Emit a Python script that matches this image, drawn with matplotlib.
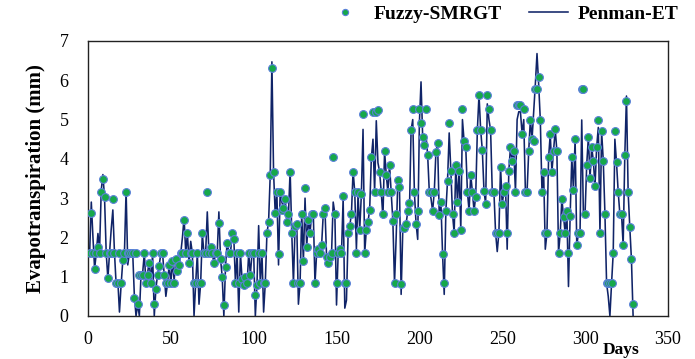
import numpy as np
import matplotlib
matplotlib.use("Agg")
import matplotlib.pyplot as plt

# daily values (days 1..329)
penman = [
    1.6, 2.9, 2.0, 1.2, 1.6, 2.1, 1.7, 3.2, 3.6, 3.0,
    1.6, 0.95, 1.6, 2.2, 2.7, 1.6, 0.8, 0.9, 0.1, 0.8,
    1.4, 1.6, 3.2, 1.3, 1.6, 1.5, 1.6, 0.5, 0.0, 0.3,
    0.0, 1.05, 1.1, 1.6, 0.8, 1.1, 1.4, 0.8, 1.6, 0.0,
    0.7, 1.05, 1.3, 1.6, 1.6, 1.05, 0.5, 0.83, 1.3, 0.83,
    1.4, 0.9, 1.45, 1.15, 1.3, 1.6, 2.0, 2.5, 1.6, 2.1,
    1.35, 1.9, 1.6, 0.0, 0.83, 1.6, 0.3, 0.83, 2.1, 1.6,
    1.6, 2.65, 1.6, 1.8, 1.6, 1.35, 1.6, 1.6, 2.65, 1.45,
    1.0, 0.0, 1.25, 1.9, 1.6, 1.6, 2.1, 2.0, 0.83, 1.6,
    0.1, 1.6, 0.93, 0.8, 1.0, 0.8, 1.6, 1.05, 1.6, 1.6,
    0.0, 0.8, 2.3, 0.83, 1.6, 0.1, 0.83, 2.1, 2.4, 3.6,
    6.47, 3.67, 2.6, 3.16, 1.3, 3.16, 2.9, 2.76, 3.0, 2.4,
    2.6, 3.7, 2.1, 0.83, 2.3, 2.35, 0.3, 0.83, 2.6, 1.4,
    3.0, 1.75, 2.5, 2.1, 2.6, 2.6, 0.83, 1.6, 1.7, 1.6,
    1.8, 2.6, 2.75, 1.5, 1.3, 1.5, 1.6, 2.9, 2.6, 0.28,
    1.6, 1.7, 1.6, 3.0, 0.2, 0.4, 2.1, 2.3, 2.6, 3.7,
    3.16, 1.7, 3.1, 2.2, 3.1, 4.75, 1.6, 2.2, 2.4, 2.7,
    4.0, 4.5, 3.16, 4.97, 3.9, 3.67, 3.16, 2.5, 4.2, 3.6,
    3.16, 3.85, 3.16, 2.43, 0.83, 2.0, 3.45, 3.29, 0.55, 2.2,
    2.3, 2.35, 2.66, 2.64, 4.73, 5.0, 3.16, 2.35, 1.95, 4.9,
    5.96, 4.55, 4.35, 4.6, 4.1, 3.16, 3.0, 2.67, 3.16, 4.18,
    4.4, 2.57, 2.9, 1.58, 0.55, 2.68, 3.44, 4.66, 3.7, 2.6,
    2.12, 3.85, 2.9, 3.7, 2.2, 5.0, 4.45, 4.3, 3.16, 2.68,
    3.6, 3.16, 2.68, 3.04, 4.73, 5.63, 4.73, 4.22, 3.19, 2.85,
    5.4, 5.0, 4.73, 3.16, 3.16, 2.12, 1.64, 2.12, 3.8, 2.85,
    3.16, 3.3, 1.7, 3.7, 4.3, 3.95, 4.2, 3.16, 5.0, 5.2,
    5.2, 4.64, 5.0, 3.16, 3.16, 4.2, 5.0, 4.5, 5.2, 5.9,
    6.68, 5.9, 4.99, 3.16, 3.67, 1.7, 2.1, 4.04, 4.63, 3.67,
    4.2, 4.75, 4.2, 1.6, 2.1, 2.98, 2.53, 2.1, 2.68, 0.75,
    2.55, 4.04, 3.2, 4.5, 1.8, 2.1, 2.2, 4.99, 2.6, 2.6,
    3.85, 4.55, 3.5, 4.3, 3.95, 3.3, 4.3, 4.8, 2.12, 4.7,
    3.95, 2.6, 0.83, 0.5, 0.0, 0.83, 1.6, 4.5, 3.9, 3.16,
    2.6, 2.6, 1.8, 4.1, 5.6, 3.16, 2.26, 1.44, 0.0,
]

fuzzy = [
    1.6, 2.63, 1.6, 1.2, 1.6, 1.76, 1.6, 3.16, 3.49, 3.03,
    1.6, 0.97, 1.6, 1.6, 2.98, 1.6, 0.83, 0.83, 1.6, 0.83,
    1.42, 1.6, 3.16, 1.6, 1.6, 1.6, 1.6, 0.46, 1.6, 0.31,
    1.05, 1.05, 1.05, 1.6, 0.83, 1.05, 1.36, 0.83, 1.6, 0.31,
    0.69, 1.05, 1.28, 1.6, 1.6, 1.05, 0.83, 0.83, 1.3, 0.83,
    1.4, 0.83, 1.45, 1.15, 1.3, 1.6, 1.6, 2.44, 1.6, 2.1,
    1.35, 1.6, 1.6, 0.83, 0.83, 1.6, 0.83, 0.83, 2.1, 1.6,
    1.6, 3.16, 1.6, 1.76, 1.6, 1.35, 1.6, 1.6, 2.36, 1.45,
    1.0, 0.29, 1.25, 1.87, 1.6, 1.6, 2.1, 1.97, 0.83, 1.6,
    0.83, 1.6, 0.93, 0.8, 1.0, 0.83, 1.6, 1.05, 1.6, 1.6,
    0.54, 0.78, 1.6, 0.83, 1.6, 0.83, 0.83, 2.1, 2.4, 3.6,
    6.3, 3.67, 2.63, 3.16, 1.58, 3.16, 2.7, 2.76, 2.98, 2.4,
    2.6, 3.67, 2.1, 0.83, 2.3, 2.35, 0.83, 0.83, 2.6, 1.4,
    3.27, 1.75, 2.45, 2.1, 2.6, 2.6, 0.83, 1.6, 1.7, 1.6,
    1.8, 2.6, 2.75, 1.5, 1.35, 1.5, 1.6, 4.04, 2.6, 0.83,
    1.6, 1.7, 1.6, 3.05, 0.83, 0.83, 2.1, 2.3, 2.6, 3.67,
    3.16, 1.6, 3.16, 2.2, 3.1, 5.13, 1.6, 2.2, 2.4, 2.7,
    4.04, 5.2, 3.16, 5.2, 5.25, 3.67, 3.16, 2.6, 4.2, 3.6,
    3.16, 3.85, 3.16, 2.43, 0.83, 2.6, 3.45, 3.29, 0.81, 2.23,
    2.23, 2.35, 2.66, 2.88, 4.73, 5.26, 3.16, 2.35, 2.68, 5.26,
    4.9, 4.55, 4.35, 5.26, 4.1, 3.16, 3.16, 2.67, 3.16, 4.18,
    4.4, 2.57, 2.9, 1.58, 0.83, 2.68, 3.44, 4.92, 3.7, 2.6,
    2.12, 3.85, 2.9, 3.7, 2.2, 5.26, 4.45, 4.3, 3.16, 2.68,
    3.6, 3.16, 2.68, 3.04, 4.73, 5.63, 4.73, 4.22, 3.19, 2.85,
    5.63, 5.26, 4.73, 3.16, 3.16, 2.12, 2.12, 2.12, 3.8, 2.85,
    3.16, 3.3, 2.12, 3.7, 4.3, 3.95, 4.2, 3.16, 5.37, 5.37,
    5.37, 4.64, 5.26, 3.16, 3.16, 4.2, 5.0, 4.5, 4.46, 5.78,
    5.78, 6.09, 4.99, 3.16, 3.67, 2.1, 2.1, 4.04, 4.63, 3.67,
    4.2, 4.75, 4.2, 1.6, 2.1, 2.98, 2.53, 2.1, 2.68, 1.6,
    2.55, 4.04, 3.2, 4.5, 1.8, 2.1, 2.12, 5.78, 5.78, 2.6,
    3.85, 4.55, 3.5, 4.3, 3.95, 3.3, 4.3, 5.0, 2.12, 4.7,
    3.95, 2.6, 0.83, 0.83, 0.83, 0.83, 1.6, 4.7, 3.93, 3.16,
    2.6, 2.6, 1.8, 4.1, 5.48, 3.16, 2.26, 1.44, 0.31,
]

days = np.arange(1, len(penman) + 1)

plt.rcParams['font.family'] = ['Liberation Serif', 'DejaVu Serif']

fig = plt.figure(figsize=(6.95, 3.59), dpi=100)
ax = fig.add_axes([0.1266, 0.1198, 0.8344, 0.7660])

ax.plot(days, penman, color='#102468', lw=1.15, label='Penman-ET', zorder=2)
ax.plot(days, fuzzy, ls='none', marker='o', ms=5.6, mfc='#16a84a',
        mec='#5a80da', mew=0.8, label='Fuzzy-SMRGT', zorder=3)

ax.set_xlim(0, 350)
ax.set_ylim(0, 7)
ax.set_xticks(range(0, 351, 50))
ax.set_yticks(range(0, 8))
ax.tick_params(axis='x', length=0, labelsize=13, pad=11)
ax.tick_params(axis='y', length=0, labelsize=13, pad=14)
for s in ax.spines.values():
    s.set_linewidth(1.0)
    s.set_color('#222222')

ax.set_ylabel('Evapotranspiration (mm)', fontsize=15, fontweight='bold', labelpad=10)
ax.text(0.92, -0.125, 'Days', transform=ax.transAxes, fontsize=12.5,
        fontweight='bold', ha='center', va='center')

h, l = ax.get_legend_handles_labels()
leg = ax.legend(h[::-1], l[::-1], loc='lower right', bbox_to_anchor=(1.035, 1.03),
                ncol=2, frameon=False, prop={'weight': 'bold', 'size': 14},
                handlelength=2.0, columnspacing=1.4, handletextpad=0.5,
                borderaxespad=0.1, markerscale=0.8)

fig.savefig('out.png', dpi=100)
